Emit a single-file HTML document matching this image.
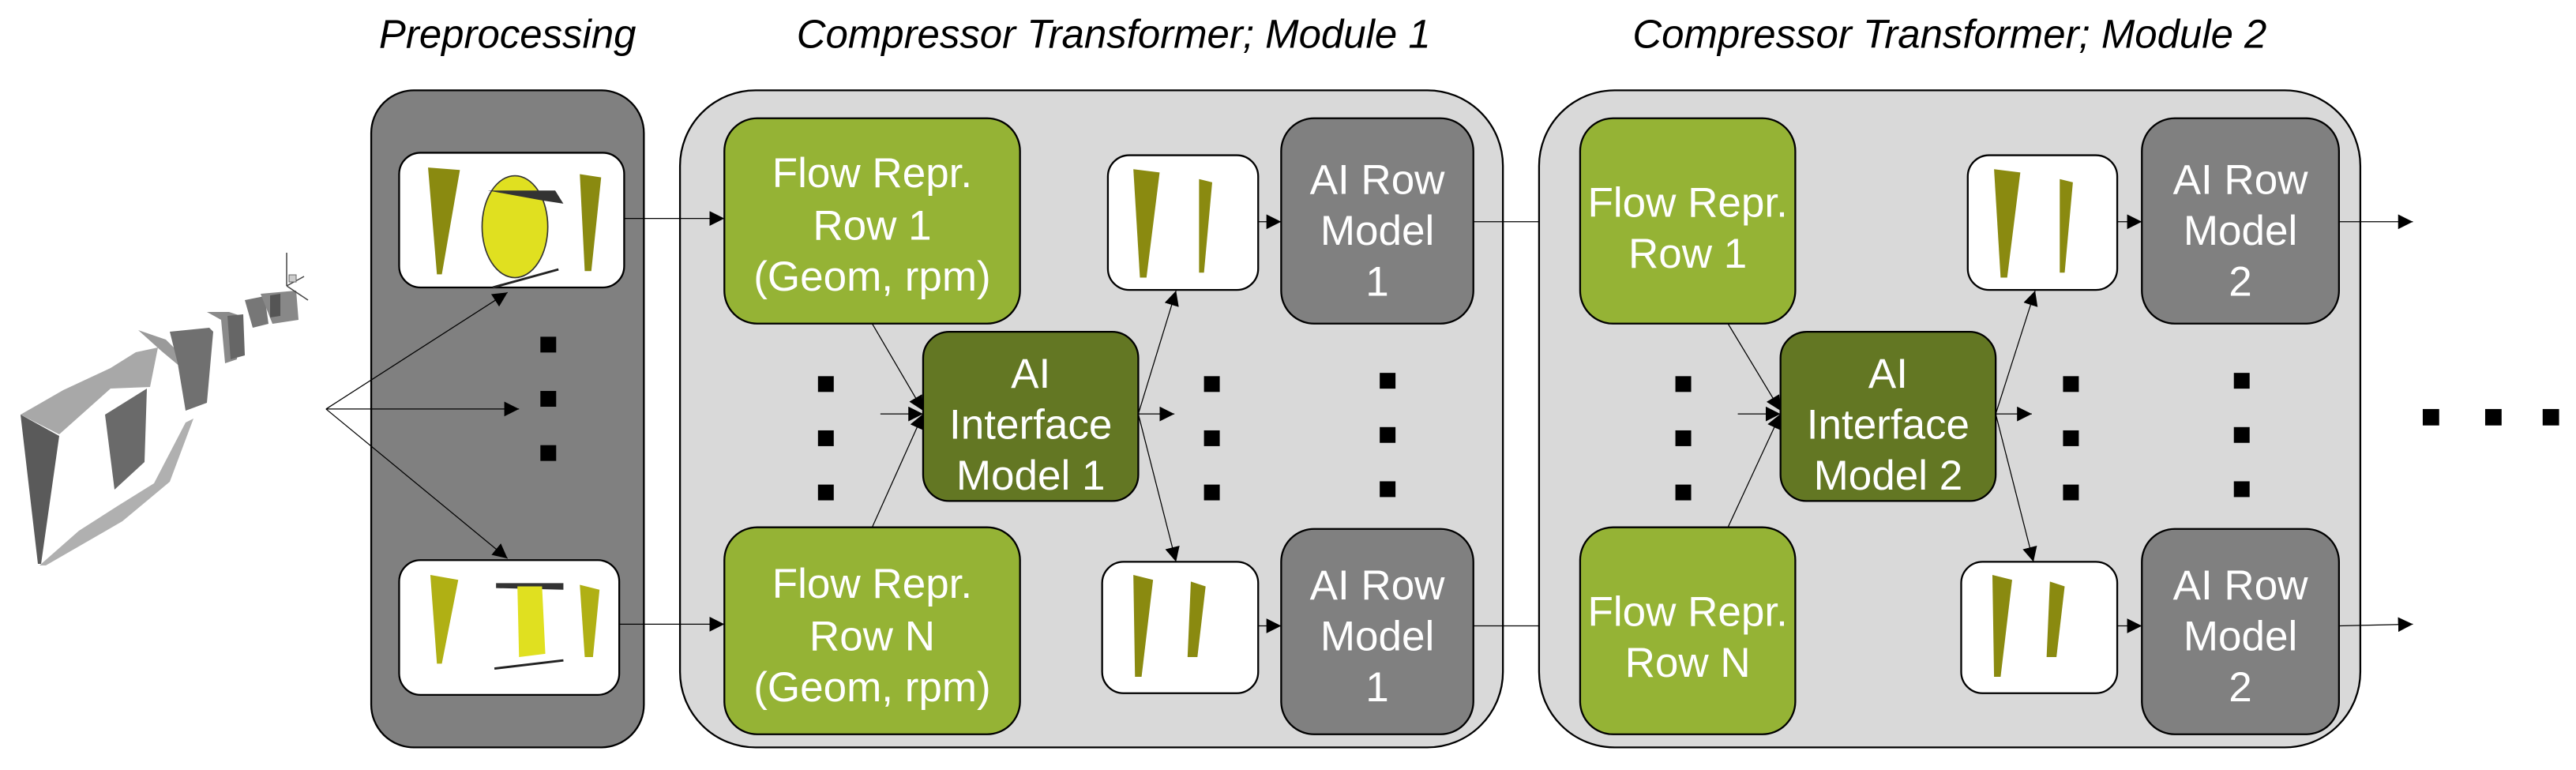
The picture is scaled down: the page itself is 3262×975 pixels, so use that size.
<!DOCTYPE html>
<html><head><meta charset="utf-8"><style>
html,body{margin:0;padding:0;background:#fff;}
svg{display:block;}
text{font-family:"Liberation Sans",sans-serif;}
.t{fill:#fff;font-size:25.5px;text-anchor:middle;}
.h{fill:#000;font-size:24.5px;font-style:italic;text-anchor:middle;}
.a{stroke:#000;stroke-width:0.6;fill:none;marker-end:url(#ar);}
.b{stroke:#000;stroke-width:1.1;}
</style></head><body>
<svg width="3262" height="975" viewBox="0 0 1568.3 468.75" preserveAspectRatio="none" xmlns="http://www.w3.org/2000/svg">
<defs>
<marker id="ar" viewBox="0 0 10 10" refX="10" refY="5" markerWidth="9" markerHeight="9" markerUnits="userSpaceOnUse" orient="auto"><path d="M0,0 L10,5 L0,10 z" fill="#000"/></marker>
<g id="blades2">
<path d="M0,0 L16,2 L8,66 L4,66 Z" fill="#8a8a10"/>
<path d="M40,6 L48,8 L43,63 L40,63 Z" fill="#8a8a10"/>
</g>
<g id="blades2b">
<path d="M0,0 L12,3 L5,62 L1,62 Z" fill="#8a8a10"/>
<path d="M35,4 L44,7 L39,50 L33,50 Z" fill="#8a8a10"/>
</g>
</defs>

<!-- titles -->
<text class="h" x="309" y="29">Preprocessing</text>
<text class="h" x="678" y="29">Compressor Transformer; Module 1</text>
<text class="h" x="1187" y="29">Compressor Transformer; Module 2</text>

<!-- left compressor illustration (full coords scaled) -->
<g transform="scale(0.4808)">
<path d="M26,525 L80,494 L140,466 L172,446 L200,440 L190,490 L140,492 L75,550 Z" fill="#a8a8a8"/>
<path d="M26,525 L75,552 L52,714 L48,714 Z" fill="#5a5a5a"/>
<path d="M133,525 L186,492 L183,585 L145,620 Z" fill="#6a6a6a"/>
<path d="M50,716 L100,672 L150,640 L195,612 L235,535 L245,530 L215,610 L155,660 L58,716 Z" fill="#b0b0b0"/>
<path d="M175,418 L210,430 L240,460 L248,500 L235,470 L205,445 Z" fill="#9a9a9a"/>
<path d="M215,420 L265,415 L270,420 L262,510 L235,520 L225,460 Z" fill="#707070"/>
<path d="M262,395 L290,395 L305,400 L300,455 L285,460 L280,405 Z" fill="#8a8a8a"/>
<path d="M288,400 L308,398 L310,450 L292,455 Z" fill="#666"/>
<path d="M310,380 L335,375 L340,410 L320,415 Z" fill="#777"/>
<path d="M330,372 L375,368 L378,405 L345,410 Z" fill="#888"/>
<path d="M342,374 L355,372 L355,400 L342,402 Z" fill="#555"/>
<line x1="363" y1="320" x2="363" y2="362" stroke="#444" stroke-width="1.5"/>
<line x1="363" y1="362" x2="385" y2="350" stroke="#444" stroke-width="1.5"/>
<line x1="363" y1="362" x2="390" y2="380" stroke="#444" stroke-width="1.5"/>
<rect x="366" y="348" width="9" height="9" fill="#ccc" stroke="#666" stroke-width="1"/>
</g>

<!-- preprocessing box -->
<rect class="b" x="226" y="55" width="166" height="400" rx="26" fill="#808080"/>
<rect class="b" x="243" y="93" width="137" height="82" rx="13" fill="#fff"/>
<path d="M260.6,102 L280,103.5 L269,167 L266,167 Z" fill="#8a8a10"/>
<ellipse cx="313.5" cy="138" rx="20" ry="31" fill="#e0e020" stroke="#333" stroke-width="0.8"/>
<path d="M297,116 L338,116 L343,124 L330,122 Z" fill="#333"/>
<path d="M300,175 L340,164" stroke="#222" stroke-width="1.4"/>
<path d="M353,106 L366,108 L360,165 L356,165 Z" fill="#8a8a10"/>
<rect class="b" x="243" y="341" width="134" height="82" rx="13" fill="#fff"/>
<path d="M262,350 L279,353 L269,404 L266,404 Z" fill="#b0b014"/>
<path d="M302,355 L343,355 L343,359 L302,358 Z" fill="#333"/>
<path d="M315,357 L330,357 L332,398 L316,400 Z" fill="#e0e020"/>
<path d="M301,407 L343,402" stroke="#222" stroke-width="1.4"/>
<path d="M353,356 L365,359 L361,400 L356,400 Z" fill="#b0b014"/>
<rect x="329" y="205" width="9.6" height="9.6" fill="#000"/>
<rect x="329" y="238" width="9.6" height="9.6" fill="#000"/>
<rect x="329" y="271" width="9.6" height="9.6" fill="#000"/>

<!-- fan arrows -->
<line class="a" x1="198.5" y1="249" x2="309" y2="178"/>
<line class="a" x1="198.5" y1="249" x2="316" y2="249"/>
<line class="a" x1="198.5" y1="249" x2="309" y2="340"/>

<!-- Module 1 -->
<rect class="b" x="414" y="55" width="501" height="400" rx="46" fill="#d9d9d9"/>
<rect class="b" x="441" y="72" width="180" height="125" rx="20" fill="#95b335"/>
<text class="t" x="531" y="114">Flow Repr.</text>
<text class="t" x="531" y="146">Row 1</text>
<text class="t" x="531" y="177">(Geom, rpm)</text>
<rect class="b" x="441" y="321" width="180" height="126" rx="20" fill="#95b335"/>
<text class="t" x="531" y="364">Flow Repr.</text>
<text class="t" x="531" y="396">Row N</text>
<text class="t" x="531" y="427">(Geom, rpm)</text>
<rect class="b" x="562" y="202" width="131" height="103" rx="16" fill="#637723"/>
<text class="t" x="627.5" y="236">AI</text>
<text class="t" x="627.5" y="267">Interface</text>
<text class="t" x="627.5" y="298">Model 1</text>
<rect class="b" x="674.5" y="94.5" width="91.5" height="82" rx="13" fill="#fff"/>
<use href="#blades2" x="690" y="103"/>
<rect class="b" x="671" y="342" width="95" height="80" rx="13" fill="#fff"/>
<use href="#blades2b" x="690" y="350"/>
<rect class="b" x="780" y="72" width="117" height="125" rx="20" fill="#808080"/>
<text class="t" x="838.5" y="118">AI Row</text>
<text class="t" x="838.5" y="149">Model</text>
<text class="t" x="838.5" y="180">1</text>
<rect class="b" x="780" y="322" width="117" height="125" rx="20" fill="#808080"/>
<text class="t" x="838.5" y="365">AI Row</text>
<text class="t" x="838.5" y="396">Model</text>
<text class="t" x="838.5" y="427">1</text>
<g fill="#000">
<rect x="498" y="229" width="9.6" height="9.6"/><rect x="498" y="262" width="9.6" height="9.6"/><rect x="498" y="295" width="9.6" height="9.6"/>
<rect x="733" y="229" width="9.6" height="9.6"/><rect x="733" y="262" width="9.6" height="9.6"/><rect x="733" y="295" width="9.6" height="9.6"/>
<rect x="840" y="227" width="9.6" height="9.6"/><rect x="840" y="260" width="9.6" height="9.6"/><rect x="840" y="293" width="9.6" height="9.6"/>
</g>
<line class="a" x1="380" y1="133" x2="441" y2="133"/>
<line class="a" x1="377" y1="380" x2="441" y2="380"/>
<line class="a" x1="531" y1="197" x2="562" y2="250"/>
<line class="a" x1="531" y1="321" x2="562" y2="252"/>
<line class="a" x1="536" y1="252" x2="562" y2="252"/>
<line class="a" x1="693" y1="252" x2="715" y2="252"/>
<line class="a" x1="693" y1="252" x2="716" y2="177"/>
<line class="a" x1="693" y1="252" x2="716" y2="342"/>
<line class="a" x1="766" y1="135" x2="780" y2="135"/>
<line class="a" x1="766" y1="381" x2="780" y2="381"/>
<line class="a" x1="897" y1="135" x2="962" y2="135"/>
<line class="a" x1="897" y1="381" x2="962" y2="381"/>

<!-- Module 2 -->
<rect class="b" x="937" y="55" width="500" height="400" rx="46" fill="#d9d9d9"/>
<rect class="b" x="962" y="72" width="131" height="125" rx="20" fill="#95b335"/>
<text class="t" x="1027.5" y="132">Flow Repr.</text>
<text class="t" x="1027.5" y="163">Row 1</text>
<rect class="b" x="962" y="321" width="131" height="126" rx="20" fill="#95b335"/>
<text class="t" x="1027.5" y="381">Flow Repr.</text>
<text class="t" x="1027.5" y="412">Row N</text>
<rect class="b" x="1084" y="202" width="131" height="103" rx="16" fill="#637723"/>
<text class="t" x="1149.5" y="236">AI</text>
<text class="t" x="1149.5" y="267">Interface</text>
<text class="t" x="1149.5" y="298">Model 2</text>
<rect class="b" x="1198" y="94.5" width="91" height="82" rx="13" fill="#fff"/>
<use href="#blades2" x="1214" y="103"/>
<rect class="b" x="1194" y="342" width="95" height="80" rx="13" fill="#fff"/>
<use href="#blades2b" x="1213" y="350"/>
<rect class="b" x="1304" y="72" width="120" height="125" rx="20" fill="#808080"/>
<text class="t" x="1364" y="118">AI Row</text>
<text class="t" x="1364" y="149">Model</text>
<text class="t" x="1364" y="180">2</text>
<rect class="b" x="1304" y="322" width="120" height="125" rx="20" fill="#808080"/>
<text class="t" x="1364" y="365">AI Row</text>
<text class="t" x="1364" y="396">Model</text>
<text class="t" x="1364" y="427">2</text>
<g fill="#000">
<rect x="1020" y="229" width="9.6" height="9.6"/><rect x="1020" y="262" width="9.6" height="9.6"/><rect x="1020" y="295" width="9.6" height="9.6"/>
<rect x="1256" y="229" width="9.6" height="9.6"/><rect x="1256" y="262" width="9.6" height="9.6"/><rect x="1256" y="295" width="9.6" height="9.6"/>
<rect x="1360" y="227" width="9.6" height="9.6"/><rect x="1360" y="260" width="9.6" height="9.6"/><rect x="1360" y="293" width="9.6" height="9.6"/>
<rect x="1475" y="249" width="10" height="10"/><rect x="1513" y="249" width="10" height="10"/><rect x="1548" y="249" width="10" height="10"/>
</g>
<line class="a" x1="1052" y1="197" x2="1084" y2="250"/>
<line class="a" x1="1052" y1="321" x2="1084" y2="252"/>
<line class="a" x1="1058" y1="252" x2="1084" y2="252"/>
<line class="a" x1="1215" y1="252" x2="1237" y2="252"/>
<line class="a" x1="1215" y1="252" x2="1239" y2="177"/>
<line class="a" x1="1215" y1="252" x2="1238" y2="342"/>
<line class="a" x1="1289" y1="135" x2="1304" y2="135"/>
<line class="a" x1="1289" y1="381" x2="1304" y2="381"/>
<line class="a" x1="1424" y1="135" x2="1469" y2="135"/>
<line class="a" x1="1424" y1="381" x2="1469" y2="380"/>
</svg>
</body></html>
